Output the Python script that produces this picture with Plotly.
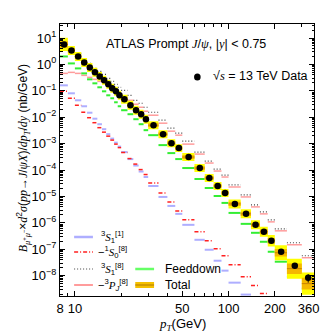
import numpy as np
import plotly.graph_objects as go

# ---------------- data ----------------
pt_edges = [8, 9, 10, 11, 12, 13, 14, 15, 16, 17, 18, 19, 20, 22, 24, 26, 28, 30, 35, 40,
            45, 50, 60, 70, 80, 90, 100, 120, 140, 160, 180, 200, 240, 300, 360]

data_xsec = [5.69, 3.38, 2.00, 1.19, 0.77, 0.50, 0.352, 0.249, 0.176, 0.124, 0.0958, 0.0676,
             0.0478, 0.0284, 0.0184, 0.0130, 0.00841, 0.00499, 0.00228, 0.00104, 6.76e-4,
             3.10e-4, 1.19e-4, 4.99e-5, 2.49e-5, 1.36e-5, 5.21e-6, 2.19e-6, 8.41e-7, 4.57e-7,
             2.09e-7, 8.05e-8, 2.38e-8, 8.41e-9]
data_rel_err = [0.04] * 26 + [0.06, 0.07, 0.08, 0.09, 0.11, 0.15, 0.25, 0.35]

total_xsec = [5.69, 3.38, 2.00, 1.19, 0.77, 0.50, 0.352, 0.249, 0.176, 0.124, 0.0958, 0.0676,
              0.0478, 0.0284, 0.0184, 0.0130, 0.00841, 0.00499, 0.00228, 0.00104, 6.76e-4,
              3.10e-4, 1.19e-4, 4.99e-5, 2.49e-5, 1.36e-5, 5.21e-6, 2.19e-6, 8.41e-7, 4.57e-7,
              2.09e-7, 7.38e-8, 1.84e-8, 4.99e-9]
# total uncertainty half-widths in decades (outer band / inner band)
total_unc_outer = [0.25, 0.17, 0.17, 0.17, 0.17, 0.17, 0.17, 0.17, 0.17, 0.17, 0.17, 0.17,
                   0.17, 0.17, 0.17, 0.17, 0.17, 0.15, 0.15, 0.15, 0.15, 0.15, 0.15, 0.15,
                   0.15, 0.15, 0.17, 0.17, 0.17, 0.19, 0.22, 0.28, 0.38, 0.42]
total_unc_inner = [0.12, 0.08, 0.08, 0.08, 0.08, 0.08, 0.08, 0.08, 0.08, 0.08, 0.08, 0.08,
                   0.08, 0.08, 0.08, 0.08, 0.08, 0.07, 0.07, 0.07, 0.07, 0.07, 0.07, 0.07,
                   0.07, 0.07, 0.08, 0.08, 0.08, 0.09, 0.11, 0.14, 0.2, 0.22]

s1_singlet = [0.161, 0.0805, 0.0438, 0.0260, 0.0148, 0.00878, 0.00544, 0.00352, 0.00228,
              0.00155, 0.00109, 7.71e-4, 4.78e-4, 2.60e-4, 1.48e-4, 8.78e-5, 5.44e-5, 2.49e-5,
              9.58e-6, 4.38e-6, 2.19e-6, 8.41e-7, 2.28e-7, 9.58e-8, 3.68e-8, 1.55e-8, 5.44e-9,
              1.92e-9, 7.5e-10, 3.5e-10, 1.6e-10, 6e-11, 2e-11, 6e-12]
s0_octet = [0.0958, 0.0521, 0.0284, 0.01545, 0.00958, 0.00620, 0.00402, 0.00272, 0.00192,
            0.00136, 9.58e-4, 7.07e-4, 4.57e-4, 2.72e-4, 1.68e-4, 1.04e-4, 6.76e-5, 3.23e-5,
            1.36e-5, 6.2e-6, 2.84e-6, 1.30e-6, 4.57e-7, 2.09e-7, 1.04e-7, 5.69e-8, 2.60e-8,
            9.16e-9, 4.2e-9, 2.09e-9, 1.1e-9, 5e-10, 2e-10, 6e-11]
s1_octet = [6.20, 4.01, 2.60, 1.55, 1.09, 0.706, 0.544, 0.420, 0.296, 0.228, 0.176, 0.136,
            0.104, 0.0676, 0.0438, 0.0338, 0.0238, 0.01545, 0.00771, 0.00385, 0.00249,
            0.00124, 4.78e-4, 2.19e-4, 1.09e-4, 6.47e-5, 2.72e-5, 1.14e-5, 4.78e-6, 2.60e-6,
            1.30e-6, 5.94e-7, 1.76e-7, 5.69e-8]
pj_octet = [0.457, 0.499, 0.457, 0.385, 0.323, 0.272, 0.228, 0.192, 0.161, 0.124, 0.104,
            0.0805, 0.0620, 0.0438, 0.0310, 0.0238, 0.0168, 0.0119, 0.00594, 0.00296, 0.00209,
            9.58e-4, 4.02e-4, 1.84e-4, 9.16e-5, 5.44e-5, 2.28e-5, 9.58e-6, 4.02e-6, 2.19e-6,
            1.09e-6, 4.99e-7, 1.48e-7, 4.78e-8]
feeddown = [2.00, 1.09, 0.706, 0.457, 0.272, 0.192, 0.136, 0.0958, 0.0676, 0.0521, 0.0368,
            0.0260, 0.0184, 0.0130, 0.00841, 0.00544, 0.00323, 0.00209, 8.78e-4, 4.38e-4,
            2.60e-4, 1.19e-4, 4.57e-5, 2.09e-5, 1.04e-5, 5.69e-6, 2.38e-6, 9.16e-7, 4.20e-7,
            1.92e-7, 8.05e-8, 3.38e-8, 9.16e-9, 3.23e-9]

x_ticks = [8, 10, 50, 100, 200, 360]
x_tick_labels = ["8", "10", "50", "100", "200", "360"]
x_minor_ticks = [9, 20, 30, 40, 60, 70, 80, 90, 300]
y_tick_exponents = [1, 0, -1, -2, -3, -4, -5, -6, -7, -8]

# ---------------- helpers ----------------
lo = pt_edges[:-1]
hi = pt_edges[1:]
centers = [(a + b) / 2 for a, b in zip(lo, hi)]


def segments(vals):
    xs, ys = [], []
    for a, b, v in zip(lo, hi, vals):
        xs += [a, b, None]
        ys += [v, v, None]
    return xs, ys


def boxes(vals, dex):
    xs, ys = [], []
    for a, b, v, d in zip(lo, hi, vals, dex):
        y0, y1 = v * 10 ** (-d), v * 10 ** d
        xs += [a, b, b, a, a, None]
        ys += [y0, y0, y1, y1, y0, None]
    return xs, ys


SANS = "Liberation Sans"
SERIF = "Liberation Serif"

fig = go.Figure()


def add_seg(vals, color, width, dash="solid"):
    xs, ys = segments(vals)
    fig.add_trace(go.Scatter(x=xs, y=ys, mode="lines", line=dict(color=color, width=width, dash=dash),
                             showlegend=False, hoverinfo="skip"))


add_seg(s1_singlet, "rgba(120,120,255,0.6)", 2)
add_seg(s0_octet, "#ff2020", 1.5, "4px,2px,1px,2px")
add_seg(pj_octet, "rgba(255,90,90,0.6)", 1.5)
add_seg(s1_octet, "#444444", 1.2, "1px,2px")
add_seg(feeddown, "#33ee33", 2)

bx, by = boxes(total_xsec, total_unc_outer)
fig.add_trace(go.Scatter(x=bx, y=by, mode="lines", fill="toself", fillcolor="#ffff00",
                         line=dict(width=0, color="#ffff00"), showlegend=False, hoverinfo="skip"))
bx, by = boxes(total_xsec, total_unc_inner)
fig.add_trace(go.Scatter(x=bx, y=by, mode="lines", fill="toself", fillcolor="#f5b800",
                         line=dict(width=0, color="#f5b800"), showlegend=False, hoverinfo="skip"))
add_seg(total_xsec, "#c88000", 1)

fig.add_trace(go.Scatter(
    x=centers, y=data_xsec, mode="markers",
    marker=dict(color="black", size=6.5),
    error_y=dict(type="data", array=[v * e for v, e in zip(data_xsec, data_rel_err)],
                 color="black", thickness=1, width=0),
    showlegend=False, hoverinfo="skip"))

# ---------------- layout ----------------
L, R, T, B = 52, 10, 16, 44
W = H = 332
PW, PH = W - L - R, H - T - B


def px(x):
    return (x - L) / PW


def py(y):
    return (H - B - y) / PH


fig.update_layout(
    width=W, height=H, margin=dict(l=L, r=R, t=T, b=B),
    paper_bgcolor="white", plot_bgcolor="white",
    font=dict(family=SANS, size=13, color="black"),
    showlegend=False,
)
# last label nudged left so it stays inside the picture
shown_x_labels = x_tick_labels[:-1] + [x_tick_labels[-1] + "\u00a0\u00a0\u00a0"]
fig.update_xaxes(
    type="log", range=[np.log10(8) - 1e-5, np.log10(360) + 1e-5],
    tickvals=x_ticks, ticktext=shown_x_labels,
    ticklabeloverflow="allow",
    ticks="inside", ticklen=5, tickcolor="black", showgrid=False, zeroline=False,
    showline=True, linecolor="black", linewidth=1, mirror="allticks",
    tickfont=dict(size=13),
    minor=dict(tickvals=x_minor_ticks, ticks="inside", ticklen=3, tickcolor="black", showgrid=False),
)
fig.update_yaxes(
    type="log", range=[-8.77, 1.53],
    tickvals=[10.0 ** e for e in y_tick_exponents],
    ticktext=["10<sup>%s</sup>" % (str(e).replace("-", "−")) for e in y_tick_exponents],
    ticks="inside", ticklen=5, tickcolor="black", showgrid=False, zeroline=False,
    showline=True, linecolor="black", linewidth=1, mirror="allticks",
    tickfont=dict(size=13),
    minor=dict(ticks="inside", ticklen=2.5, tickcolor="black", showgrid=False, dtick="D1"),
)

shapes = []
ann = []


def hline(x0, x1, y, color, width, dash="solid"):
    shapes.append(dict(type="line", xref="paper", yref="paper", x0=px(x0), x1=px(x1), y0=py(y), y1=py(y),
                       line=dict(color=color, width=width, dash=dash)))


# legend samples
hline(67, 87, 229, "rgba(120,120,255,0.6)", 2.5)
hline(67, 87, 244, "#ff2020", 1.5, "4px,2px,1px,2px")
hline(67, 87, 261, "#444444", 1.2, "1px,2px")
hline(67, 87, 277, "rgba(255,90,90,0.6)", 2)
hline(132, 152, 261, "#66ff66", 2.5)
shapes.append(dict(type="rect", xref="paper", yref="paper", x0=px(132), x1=px(152), y0=py(280), y1=py(274),
                   fillcolor="#f5c000", line=dict(width=0)))
hline(132, 152, 277, "#b07800", 1)
# data marker in header
shapes.append(dict(type="circle", xref="paper", yref="paper", x0=px(194.5), x1=px(201.5),
                   y0=py(72.5), y1=py(65.5), fillcolor="black", line=dict(width=0)))


def text(x, y, s, size=12, anchor="left", angle=0):
    ann.append(dict(xref="paper", yref="paper", x=px(x), y=py(y), text=s, showarrow=False,
                    xanchor=anchor, yanchor="middle", textangle=angle,
                    font=dict(size=size, family=SANS, color="black")))


def it(s):
    return f'<span style="font-family:{SERIF}"><i>{s}</i></span>'


lab_lines = [
    (229, "<sup>3</sup>" + it("S") + "<sub>1</sub><sup>[1]</sup>"),
    (244, "−<sup>1</sup>" + it("S") + "<sub>0</sub><sup>[8]</sup>"),
    (261, "<sup>3</sup>" + it("S") + "<sub>1</sub><sup>[8]</sup>"),
    (277, "−<sup>3</sup>" + it("P") + "<sub><i>J</i></sub><sup>[8]</sup>"),
]
for y, s in lab_lines:
    text(108, y, s, size=11, anchor="center")
text(162, 261, "Feeddown", size=12)
text(162, 277, "Total", size=12)

text(99, 36, "ATLAS Prompt " + it("J") + "/" + it("ψ") + ", |" + it("y") + "| &lt; 0.75", size=12.5)
text(212, 68, "√" + it("s") + " = 13 TeV Data", size=12.5)

# axis titles
text(182, 316, it("p") + "<sub>" + it("T") + "</sub>(GeV)", size=13, anchor="center")
ytitle = (it("B") + "<sub>" + it("μ") + "<sup>+</sup>" + it("μ") + "<sup>−</sup></sub>×"
          + it("d") + "<sup>2</sup>" + it("σ") + "(" + it("pp") + "→" + it("J") + "/" + it("ψX") + ")/"
          + it("dp") + "<sub>" + it("T") + "</sub>/" + it("dy") + " (nb/GeV)")
text(13, 150, ytitle, size=12, anchor="center", angle=-90)

fig.update_layout(shapes=shapes, annotations=ann)
fig.write_html("out.html")
